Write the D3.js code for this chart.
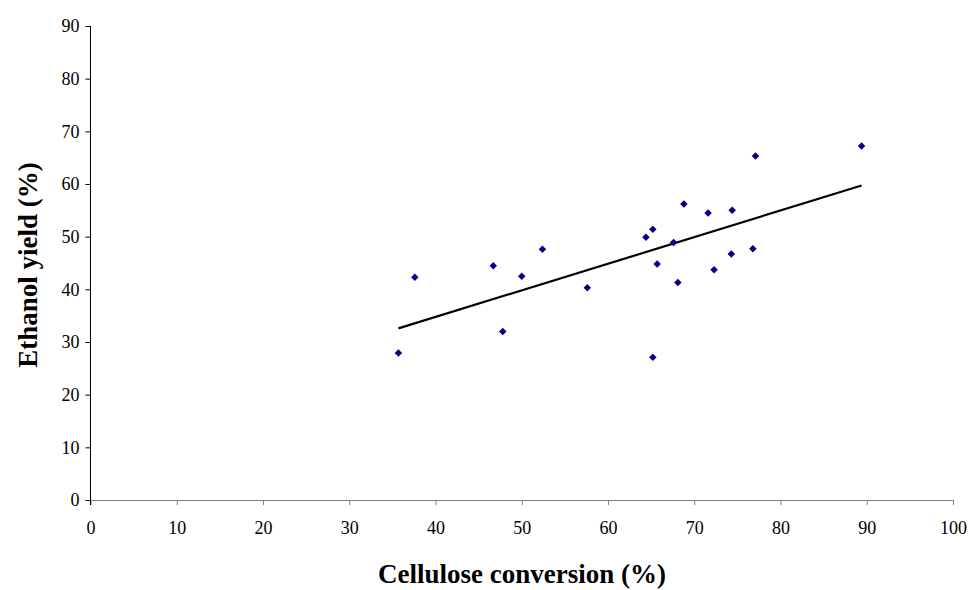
<!DOCTYPE html>
<html><head><meta charset="utf-8">
<script src="https://cdn.jsdelivr.net/npm/d3@7"></script>
<style>body{margin:0;background:#fff}svg{display:block}</style>
</head><body>
<script>
const xTicks = [0,10,20,30,40,50,60,70,80,90,100];
const yTicks = [0,10,20,30,40,50,60,70,80,90];
const conversion = [35.7,37.6,46.7,47.8,50.0,52.4,57.6,64.4,65.2,65.7,65.2,67.6,68.1,68.8,71.6,72.3,74.4,74.3,76.8,77.1,89.4];
const ethanolYield = [27.9,42.3,44.5,32.0,42.5,47.6,40.3,49.9,51.4,44.8,27.1,48.9,41.3,56.2,54.5,43.7,55.0,46.7,47.7,65.3,67.2];
const xTitle = "Cellulose conversion (%)";
const yTitle = "Ethanol yield (%)";

const W = 973, H = 590;
const svg = d3.select("body").append("svg").attr("width", W).attr("height", H);
const x = d3.scaleLinear().domain([0,100]).range([90.5,953]);
const y = d3.scaleLinear().domain([0,90]).range([500,26]);
const font = "'Liberation Serif','Times New Roman',serif";

const gx = svg.append("g").attr("transform","translate(0,500)")
  .call(d3.axisBottom(x).tickValues(xTicks).tickSize(5).tickPadding(16).tickFormat(d3.format("d")));
gx.select(".domain").attr("stroke","#808080").attr("d","M90.5,0.5H953");
gx.selectAll(".tick line").attr("stroke","#808080");
gx.selectAll("text").attr("font-family",font).attr("font-size",18).attr("fill","#000");

const gy = svg.append("g").attr("transform","translate(90.5,0)")
  .call(d3.axisLeft(y).tickValues(yTicks).tickSize(5).tickPadding(6).tickFormat(d3.format("d")));
gy.select(".domain").attr("stroke","#000").attr("d","M0,26V505");
gy.selectAll(".tick line").attr("stroke","#000");
gy.selectAll("text").attr("font-family",font).attr("font-size",18).attr("fill","#000");

// linear regression trend line
const n = conversion.length;
const mx = d3.mean(conversion), my = d3.mean(ethanolYield);
let sxy = 0, sxx = 0;
for (let i=0;i<n;i++){ sxy += (conversion[i]-mx)*(ethanolYield[i]-my); sxx += (conversion[i]-mx)**2; }
const slope = sxy/sxx, intercept = my - slope*mx;
const x0 = d3.min(conversion), x1 = d3.max(conversion);
svg.append("line")
  .attr("x1", x(x0)).attr("y1", y(intercept+slope*x0))
  .attr("x2", x(x1)).attr("y2", y(intercept+slope*x1))
  .attr("stroke","#000").attr("stroke-width",2.2);

const diamond = d3.symbol().type(d3.symbolSquare).size(28);
svg.append("g").selectAll("path").data(conversion).join("path")
  .attr("d", diamond)
  .attr("transform", (d,i)=>`translate(${x(d)},${y(ethanolYield[i])}) rotate(45)`)
  .attr("fill","#000080");

svg.append("text").attr("x",522).attr("y",583).attr("text-anchor","middle")
  .attr("font-family",font).attr("font-size",27).attr("font-weight","bold").text(xTitle);
svg.append("text").attr("transform","translate(37,265) rotate(-90)").attr("text-anchor","middle")
  .attr("font-family",font).attr("font-size",27).attr("font-weight","bold").text(yTitle);
</script>
</body></html>
